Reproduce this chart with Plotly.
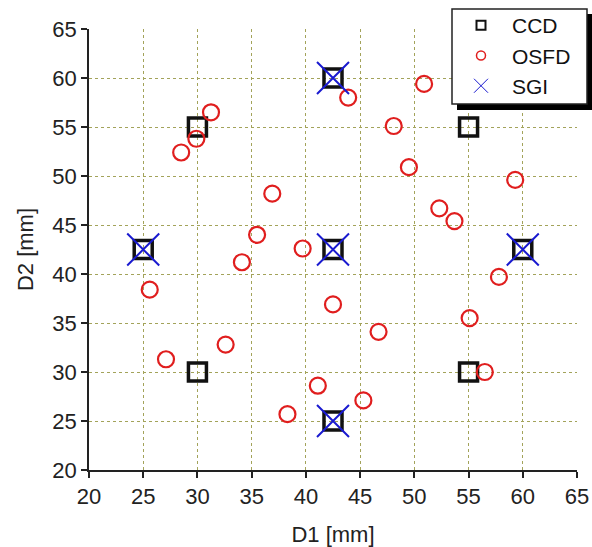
import plotly.graph_objects as go

ccd_x = [30, 55, 25, 42.5, 60, 42.5, 42.5, 30, 55]
ccd_y = [55, 55, 42.5, 42.5, 42.5, 60, 25, 30, 30]

osfd_x = [31.25, 29.9, 28.5, 36.9, 35.5, 34.1, 39.7, 43.9, 50.9, 48.1, 49.5, 59.3, 52.3,
          53.7, 57.8, 25.6, 27.1, 32.6, 38.3, 42.5, 46.7, 55.1, 56.5, 41.1, 45.3]
osfd_y = [56.5, 53.8, 52.4, 48.2, 44.0, 41.2, 42.6, 58.0, 59.4, 55.1, 50.9, 49.6, 46.7,
          45.4, 39.7, 38.4, 31.3, 32.8, 25.7, 36.9, 34.1, 35.5, 30.0, 28.6, 27.1]

sgi_x = [42.5, 25, 42.5, 60, 42.5]
sgi_y = [60, 42.5, 42.5, 42.5, 25]

tick_vals = [20, 25, 30, 35, 40, 45, 50, 55, 60, 65]

BLACK = "#111111"
RED = "#e01e1e"
BLUE = "#1a1ad0"
FONT = "Liberation Sans, Arial"

fig = go.Figure()
fig.add_trace(go.Scatter(x=ccd_x, y=ccd_y, mode="markers", showlegend=False,
                         marker=dict(symbol="square-open", size=18, color=BLACK,
                                     line=dict(width=3.5, color=BLACK))))
fig.add_trace(go.Scatter(x=osfd_x, y=osfd_y, mode="markers", showlegend=False,
                         marker=dict(symbol="circle-open", size=16, color=RED,
                                     line=dict(width=2.2, color=RED))))
fig.add_trace(go.Scatter(x=sgi_x, y=sgi_y, mode="markers", showlegend=False,
                         marker=dict(symbol="x-thin-open", size=32, color=BLUE,
                                     line=dict(width=2, color=BLUE))))

# legend entries
fig.add_trace(go.Scatter(x=[None], y=[None], mode="markers", name="CCD",
                         marker=dict(symbol="square-open", size=9, color=BLACK,
                                     line=dict(width=2, color=BLACK))))
fig.add_trace(go.Scatter(x=[None], y=[None], mode="markers", name="OSFD",
                         marker=dict(symbol="circle-open", size=9, color=RED,
                                     line=dict(width=1.5, color=RED))))
fig.add_trace(go.Scatter(x=[None], y=[None], mode="markers", name="SGI",
                         marker=dict(symbol="x-thin-open", size=14, color=BLUE,
                                     line=dict(width=1, color=BLUE))))

# plot area in pixels: x 89..577, y 29..470
L, R, T, B = 89, 577, 29, 470
def px(x):
    return (x - L) / (R - L)
def py(y):
    return (B - y) / (B - T)

# legend shadow and frame
fig.add_shape(type="rect", xref="paper", yref="paper",
              x0=px(457), x1=px(600), y0=py(110), y1=py(14),
              fillcolor="black", line=dict(width=0), layer="above")
fig.add_shape(type="rect", xref="paper", yref="paper",
              x0=px(452), x1=px(587), y0=py(104), y1=py(9),
              fillcolor="white", line=dict(width=1.5, color="#222222"), layer="above")

axis_common = dict(range=[20, 65], tickvals=tick_vals, showgrid=True,
                   gridcolor="#a3a35a", griddash="dot", gridwidth=1,
                   zeroline=False, showline=True, linecolor="#222222", linewidth=1.5,
                   ticks="outside", ticklen=6, tickwidth=1.5, tickcolor="#222222",
                   tickfont=dict(family=FONT, size=22, color="#222222"),
                   mirror=False)

fig.update_xaxes(**axis_common, title=dict(text="D1 [mm]", standoff=21,
                 font=dict(family=FONT, size=22, color="#222222")))
fig.update_yaxes(**axis_common, title=dict(text="D2 [mm]", standoff=13,
                 font=dict(family=FONT, size=22, color="#222222")))

fig.update_layout(
    width=592, height=547,
    margin=dict(l=L, r=592 - R, t=T, b=547 - B, autoexpand=False),
    plot_bgcolor="white", paper_bgcolor="white",
    legend=dict(x=px(450), y=py(5), xanchor="left", yanchor="top",
                bgcolor="rgba(0,0,0,0)", borderwidth=0,
                font=dict(family=FONT, size=21, color="#111111"),
                itemwidth=52, tracegroupgap=0),
)

fig.write_html("out.html")
